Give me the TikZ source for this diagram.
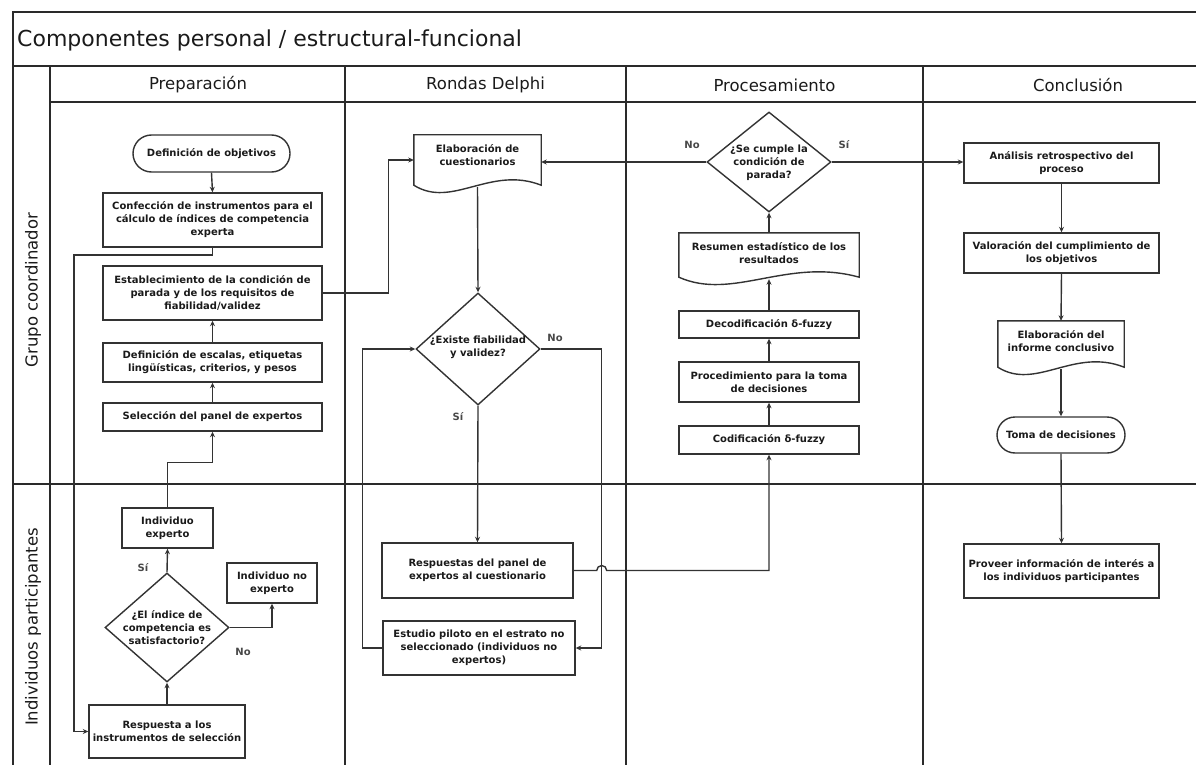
\documentclass[tikz,border=0pt]{standalone}
\usepackage{fontspec}
\setmainfont{DejaVu Sans}
\usetikzlibrary{shapes.geometric,shapes.misc,arrows.meta,calc}
\definecolor{linec}{HTML}{333333}
\definecolor{framec}{HTML}{2A2A2A}
\definecolor{txtc}{HTML}{1A1A1A}
\newcommand\docpath[1]{\draw[boxline] (#1.south west) .. controls ($(#1.south west)!0.3!(#1.south east)+(0,24)$) and ($(#1.south west)!0.6!(#1.south east)+(0,-20)$) .. (#1.south east) -- (#1.north east) -- (#1.north west) -- cycle;}
\tikzset{
  frame/.style={draw=framec, line width=1.7pt},
  boxline/.style={draw=linec, line width=1.4pt},
  txt/.style={text=txtc, font=\bfseries\fontsize{10}{13}\selectfont, align=center, inner sep=0pt},
  box/.style={txt, boxline, fill=white, rectangle},
  term/.style={txt, boxline, fill=white, rounded rectangle},
  dia/.style={boxline, diamond, fill=white, inner sep=0pt},
  docn/.style={rectangle, inner sep=0pt},
  arr/.style={draw=linec, line width=1.4pt, -{Stealth[length=5.5pt,width=5pt]}},
  lbl/.style={text=txtc!80, font=\bfseries\fontsize{10}{12}\selectfont, inner sep=0pt},
  head/.style={text=txtc, font=\fontsize{16.5}{20}\selectfont, inner sep=0pt},
}
\begin{document}
\begin{tikzpicture}[x=1pt,y=-1pt]
\useasboundingbox (0,0) rectangle (1196,765);
% frame
\draw[frame] (1196,12) -- (13,12) -- (13,765);
\draw[frame] (13,66) -- (1196,66);
\draw[frame] (50,102) -- (1196,102);
\draw[frame] (13,484) -- (1196,484);
\draw[frame] (50,66) -- (50,765);
\draw[frame] (345,66) -- (345,765);
\draw[frame] (626,66) -- (626,765);
\draw[frame] (923,66) -- (923,765);
% titles
\node[head, font=\fontsize{22}{26}\selectfont, anchor=west] (title) at (17,40) {Componentes personal / estructural-funcional};
\node[head] (h1) at (198,85) {Preparación};
\node[head] (h2) at (485.5,85) {Rondas Delphi};
\node[head] (h3) at (774.5,85) {Procesamiento};
\node[head] (h4) at (1078,85) {Conclusión};
\node[head, rotate=90] (l1) at (33,290) {Grupo coordinador};
\node[head, rotate=90] (l2) at (33,627) {Individuos participantes};

% Preparacion
\node[term, minimum width=157pt, minimum height=37pt] (def) at (211.5,153.5) {Definición de objetivos};
\node[box, minimum width=219pt, minimum height=54pt] (conf) at (212.5,220) {Confección de instrumentos para el\\cálculo de índices de competencia\\experta};
\node[box, minimum width=219pt, minimum height=54pt] (est) at (212.5,293) {Establecimiento de la condición de\\parada y de los requisitos de\\fiabilidad/validez};
\node[box, minimum width=219pt, minimum height=39pt] (esc) at (212.5,362.5) {Definición de escalas, etiquetas\\lingüísticas, criterios, y pesos};
\node[box, minimum width=219pt, minimum height=28pt] (sel) at (212.5,417) {Selección del panel de expertos};
\node[box, minimum width=91pt, minimum height=40pt] (iexp) at (167.5,528) {Individuo\\experto};
\node[dia, minimum width=124pt, minimum height=109pt] (q1) at (167,627.5) {};
\node[txt] (q1t) at (167,627.5) {¿El índice de\\competencia es\\satisfactorio?};
\node[box, minimum width=90pt, minimum height=40pt] (inoexp) at (272,583) {Individuo no\\experto};
\node[box, minimum width=156pt, minimum height=53pt] (resp) at (167,731.5) {Respuesta a los\\instrumentos de selección};
\node[lbl] (s1) at (143,568) {Sí};
\node[lbl] (n1) at (243,652) {No};

% Rondas Delphi
\node[docn, minimum width=127pt, minimum height=50pt] (elab) at (477.5,160) {};
\docpath{elab}
\node[txt] (elabt) at (477.5,155) {Elaboración de\\cuestionarios};
\node[dia, minimum width=124pt, minimum height=112pt] (q2) at (478,349) {};
\node[txt] (q2t) at (478,347) {¿Existe fiabilidad\\y validez?};
\node[box, minimum width=191pt, minimum height=55pt] (rpan) at (477.5,570.5) {Respuestas del panel de\\expertos al cuestionario};
\node[box, minimum width=192pt, minimum height=54pt] (pil) at (479,648) {Estudio piloto en el estrato no\\seleccionado (individuos no\\expertos)};
\node[lbl] (n2) at (555,338) {No};
\node[lbl] (s2) at (458,417) {Sí};

% Procesamiento
\node[dia, minimum width=124pt, minimum height=100pt] (q3) at (769,162) {};
\node[txt] (q3t) at (769,163) {¿Se cumple la\\condición de\\parada?};
\node[docn, minimum width=180pt, minimum height=44pt] (res) at (769,255) {};
\docpath{res}
\node[txt] (rest) at (769,253) {Resumen estadístico de los\\resultados};
\node[box, minimum width=180pt, minimum height=27pt] (dec) at (769,324.5) {Decodificación δ-fuzzy};
\node[box, minimum width=180pt, minimum height=40pt] (proc) at (769,382) {Procedimiento para la toma\\de decisiones};
\node[box, minimum width=180pt, minimum height=28pt] (cod) at (769,440) {Codificación δ-fuzzy};
\node[lbl] (n3) at (692,145) {No};
\node[lbl] (s3) at (844,145) {Sí};

% Conclusion
\node[box, minimum width=195pt, minimum height=40pt] (ana) at (1061.5,163) {Análisis retrospectivo del\\proceso};
\node[box, minimum width=195pt, minimum height=40pt] (val) at (1061.5,253) {Valoración del cumplimiento de\\los objetivos};
\node[docn, minimum width=126pt, minimum height=46pt] (inf) at (1061,344) {};
\docpath{inf}
\node[txt] (inft) at (1061,341) {Elaboración del\\informe conclusivo};
\node[term, minimum width=128pt, minimum height=36pt] (toma) at (1061,435) {Toma de decisiones};
\node[box, minimum width=195pt, minimum height=54pt] (prov) at (1061.5,571) {Proveer información de interés a\\los individuos participantes};

% connectors Preparacion
\draw[arr] (def.south) -- (conf.north);
\coordinate (c1) at (74,255);
\draw[arr] (conf.south) |- (c1) |- (resp.west);
\draw[arr] (resp.north) -- (q1.south);
\draw[arr] (q1.north) -- (iexp.south);
\draw[arr] (q1.east) -| (inoexp.south);
\draw[arr] (iexp.north) -- ++(0,-45) -| (sel.south);
\draw[arr] (sel.north) -- (esc.south);
\draw[arr] (esc.north) -- (est.south);
\draw[arr] (est.east) -- ++(66,0) |- (elab.west);
% Rondas
\draw[arr] ([yshift=-2pt]elab.south) -- (q2.north);
\draw[arr] (q2.south) -- (rpan.north);
\draw[arr] (q2.east) -- ++(61,0) |- (pil.east);
\draw[arr] (pil.west) -- ++(-20,0) |- (q2.west);
\draw[arr] (rpan.east) -- ++(23,0) arc[start angle=180, end angle=0, radius=5pt] -| (cod.south);
% Procesamiento
\draw[arr] (cod.north) -- (proc.south);
\draw[arr] (proc.north) -- (dec.south);
\draw[arr] (dec.north) -- ([yshift=-2pt]res.south);
\draw[arr] (res.north) -- (q3.south);
\draw[arr] (q3.west) -- (q3.west -| elab.east);
\draw[arr] (q3.east) -- (q3.east -| ana.west);
% Conclusion
\draw[arr] (ana.south) -- (val.north);
\draw[arr] (val.south) -- (inf.north);
\draw[arr] ([yshift=-2pt]inf.south) -- (toma.north);
\draw[arr] (toma.south) -- (prov.north);
\end{tikzpicture}
\end{document}
